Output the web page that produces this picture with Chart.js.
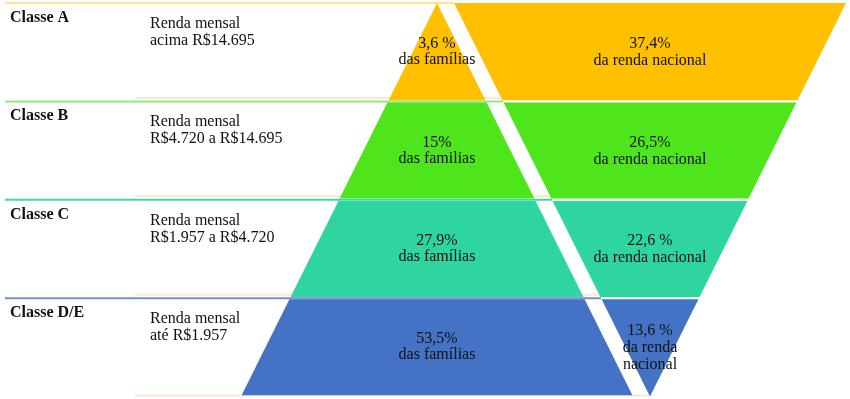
<!DOCTYPE html>
<html lang="pt">
<head>
<meta charset="UTF-8">
<title>Classes de renda</title>
<script src="https://cdn.jsdelivr.net/npm/chart.js"></script>
<style>
  body { margin: 0; background: #fff; }
  #box { width: 850px; height: 399px; position: relative; }
</style>
</head>
<body>
<div id="box"><canvas id="grafico"></canvas></div>
<script>
// dados do quadro
var classes = ['Classe A', 'Classe B', 'Classe C', 'Classe D/E'];
var faixas = [
  ['Renda mensal', 'acima R$14.695'],
  ['Renda mensal', 'R$4.720 a R$14.695'],
  ['Renda mensal', 'R$1.957 a R$4.720'],
  ['Renda mensal', 'até R$1.957']
];
var pctFamilias = ['3,6 %', '15%', '27,9%', '53,5%'];
var txtFamilias = ['das famílias', 'das familias', 'das famílias', 'das famílias'];
var pctRenda = ['37,4%', '26,5%', '22,6 %', '13,6 %'];
var txtRenda = [['da renda nacional'], ['da renda nacional'], ['da renda nacional'], ['da renda', 'nacional']];

var cores = ['#FFC000', '#4EE51C', '#2ED5A1', '#4472C4'];
var coresLinha = ['#FFE38A', '#8FEA7A', '#3FD9A8', '#6F8FD2'];
var corBege = '#FCE6CF';

// geometria das duas piramides (eixo x em px, eixo y em linhas)
var nRows = classes.length;
var apiceEsq = 437, apiceDir = 650, passo = 49, gap = 0.012;

function meia(y) { return y * passo; }
function meiaInv(y) { return (nRows - y) * passo; }

var datasets = [];
for (var k = 0; k < nRows; k++) {
  var yt = k === 0 ? 0 : k + gap;
  var yb = k + 1 - gap;
  datasets.push({
    data: [
      {x: apiceEsq - meia(yt), y: yt}, {x: apiceEsq + meia(yt), y: yt},
      {x: apiceEsq + meia(yb), y: yb}, {x: apiceEsq - meia(yb), y: yb},
      {x: apiceEsq - meia(yt), y: yt}
    ],
    backgroundColor: cores[k], borderColor: 'rgba(0,0,0,0)', fill: 'shape', order: 1
  });
  var yb2 = k === nRows - 1 ? nRows : yb;
  datasets.push({
    data: [
      {x: apiceDir - meiaInv(yt), y: yt}, {x: apiceDir + meiaInv(yt), y: yt},
      {x: apiceDir + meiaInv(yb2), y: yb2}, {x: apiceDir - meiaInv(yb2), y: yb2},
      {x: apiceDir - meiaInv(yt), y: yt}
    ],
    backgroundColor: cores[k], borderColor: 'rgba(0,0,0,0)', fill: 'shape', order: 1
  });
  // linha colorida no topo da faixa e linha bege no fundo
  datasets.push({
    data: [{x: 5, y: k}, {x: apiceDir - meiaInv(k), y: k}],
    borderColor: coresLinha[k], borderWidth: 2, fill: false, order: 5
  });
  var yl = k === nRows - 1 ? nRows - 0.01 : k + 1 - 0.035;
  datasets.push({
    data: [{x: 135, y: yl}, {x: apiceDir - meiaInv(yl), y: yl}],
    borderColor: corBege, borderWidth: 2, fill: false, order: 6
  });
}

var textos = {
  id: 'textos',
  afterDatasetsDraw: function(chart) {
    var ctx = chart.ctx, sx = chart.scales.x, sy = chart.scales.y;
    ctx.save();
    ctx.fillStyle = '#111';
    for (var k = 0; k < nRows; k++) {
      var topo = sy.getPixelForValue(k);
      var meio = sy.getPixelForValue(k + 0.5);
      ctx.textAlign = 'left';
      ctx.font = 'bold 16px "Liberation Serif"';
      ctx.fillText(classes[k], sx.getPixelForValue(10), topo + 19);
      ctx.font = '16px "Liberation Serif"';
      ctx.fillText(faixas[k][0], sx.getPixelForValue(150), topo + 25);
      ctx.fillText(faixas[k][1], sx.getPixelForValue(150), topo + 42);
      ctx.textAlign = 'center';
      var cx = sx.getPixelForValue(apiceEsq);
      ctx.fillText(pctFamilias[k], cx, meio - 4);
      ctx.fillText(txtFamilias[k], cx, meio + 12);
      var cx2 = sx.getPixelForValue(apiceDir);
      var linhas = [pctRenda[k]].concat(txtRenda[k]);
      var y0 = linhas.length > 2 ? meio - 12 : meio - 4;
      for (var i = 0; i < linhas.length; i++) {
        ctx.fillText(linhas[i], cx2, y0 + i * 17);
      }
    }
    ctx.restore();
  }
};

new Chart(document.getElementById('grafico'), {
  type: 'scatter',
  data: { datasets: datasets },
  options: {
    responsive: true,
    maintainAspectRatio: false,
    animation: false,
    events: [],
    showLine: true,
    elements: { point: { radius: 0 }, line: { tension: 0 } },
    layout: { padding: 0 },
    plugins: { legend: { display: false }, tooltip: { enabled: false } },
    scales: {
      x: { type: 'linear', min: 0, max: 850, display: false },
      y: { type: 'linear', min: -0.0305, max: 4.025, reverse: true, display: false }
    }
  },
  plugins: [textos]
});
</script>
</body>
</html>
